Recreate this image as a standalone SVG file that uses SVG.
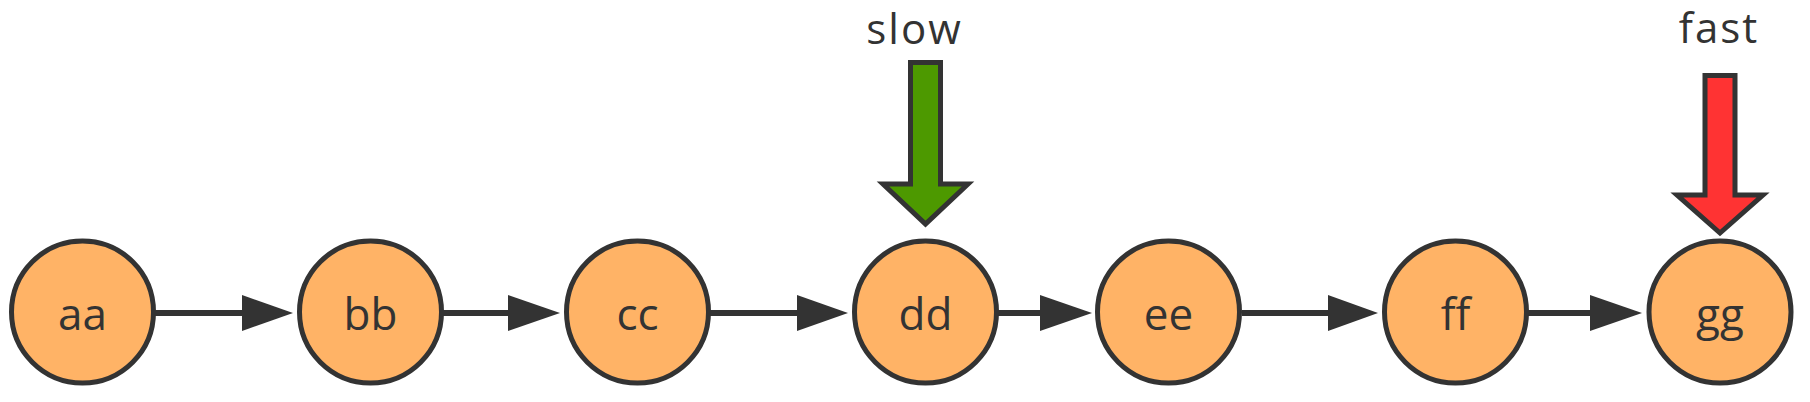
<svg xmlns="http://www.w3.org/2000/svg" width="1810" height="402" viewBox="0 0 1810 402">
<defs>
<style>
.node circle{fill:#FFB366;stroke:#333333;stroke-width:5}
.node text{font-family:"Open Sans","Liberation Sans",sans-serif;font-size:44px;fill:#333333;text-anchor:middle}
.lbl{font-family:"Open Sans","Liberation Sans",sans-serif;font-size:42px;fill:#333333;text-anchor:middle;letter-spacing:2px}
.edge line{stroke:#333333;stroke-width:6}
.edge polygon{fill:#333333}
.ptr{stroke:#333333;stroke-width:5;stroke-linejoin:miter}
</style>
</defs>
<rect width="1810" height="402" fill="#ffffff"/>
<g id="connectors" class="edge">
<line x1="155" y1="313" x2="245" y2="313"/><polygon points="242,295 293,313 242,331"/>
<line x1="443" y1="313" x2="510" y2="313"/><polygon points="508,295 560,313 508,331"/>
<line x1="710" y1="313" x2="800" y2="313"/><polygon points="797,295 848,313 797,331"/>
<line x1="998" y1="313" x2="1043" y2="313"/><polygon points="1040,295 1092,313 1040,331"/>
<line x1="1242" y1="313" x2="1330" y2="313"/><polygon points="1328,295 1378,313 1328,331"/>
<line x1="1528" y1="313" x2="1592" y2="313"/><polygon points="1590,295 1642,313 1590,331"/>
</g>
<g id="node-aa" class="node"><circle cx="82.5" cy="312" r="71"/><text x="82.5" y="330">aa</text></g>
<g id="node-bb" class="node"><circle cx="370.5" cy="312" r="71"/><text x="370.5" y="330">bb</text></g>
<g id="node-cc" class="node"><circle cx="637.5" cy="312" r="71"/><text x="637.5" y="330">cc</text></g>
<g id="node-dd" class="node"><circle cx="925.5" cy="312" r="71"/><text x="925.5" y="330">dd</text></g>
<g id="node-ee" class="node"><circle cx="1168.5" cy="312" r="71"/><text x="1168.5" y="330">ee</text></g>
<g id="node-ff" class="node"><circle cx="1455.5" cy="312" r="71"/><text x="1455.5" y="330">ff</text></g>
<g id="node-gg" class="node"><circle cx="1720" cy="312" r="71"/><text x="1720" y="330">gg</text></g>
<g id="slow-pointer">
<text class="lbl" x="914.5" y="44">slow</text>
<path class="ptr" fill="#4D9900" d="M910.5,62.5 H940.5 V184 H968 L925.5,224 L883,184 H910.5 Z"/>
</g>
<g id="fast-pointer">
<text class="lbl" x="1719" y="43">fast</text>
<path class="ptr" fill="#FF3333" d="M1705,75.5 H1735 V195 H1763 L1720,233 L1677,195 H1705 Z"/>
</g>
</svg>
